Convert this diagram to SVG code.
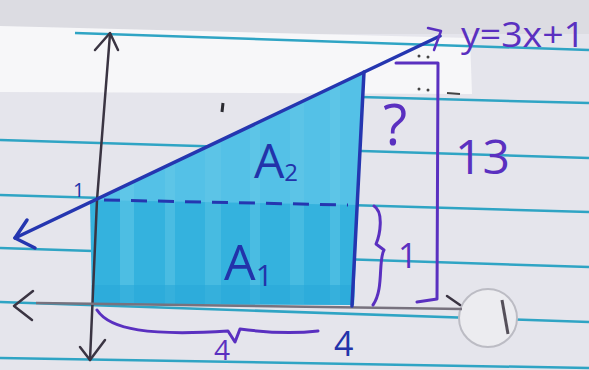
<svg xmlns="http://www.w3.org/2000/svg" width="589" height="370" viewBox="0 0 589 370">
<style>
.rule{stroke:#2fa4c4;stroke-width:2.5;fill:none}
.blue{stroke:#2536b0;stroke-width:3.5;fill:none;stroke-linecap:round;stroke-linejoin:round}
.purple{stroke:#5a30c0;stroke-width:3;fill:none;stroke-linecap:round;stroke-linejoin:round}
.axis{stroke:#3a3442;stroke-width:2.5;fill:none;stroke-linecap:round;stroke-linejoin:round}
.hand{font-family:"Open Sans","DejaVu Sans",sans-serif;font-weight:400}
.tp{fill:#5a30c0}
.tb{fill:#2233aa}
</style>
<defs>
<clipPath id="shadeClip"><polygon points="90,202 363,72 354,305 92,304"/></clipPath>
</defs>
<g id="paper">
<rect x="0" y="0" width="589" height="370" fill="#e5e5ec"/>
<rect x="0" y="0" width="589" height="34" fill="#dcdce2"/>
<polygon points="0,26 470,38 472,94 0,92" fill="#f7f7f9"/>
</g>
<g id="rules">
<line class="rule" x1="75" y1="33" x2="589" y2="50"/>
<line class="rule" x1="360" y1="97" x2="589" y2="103"/>
<line class="rule" x1="0" y1="140" x2="589" y2="158"/>
<line class="rule" x1="0" y1="195" x2="589" y2="212"/>
<line class="rule" x1="0" y1="248" x2="589" y2="267"/>
<line class="rule" x1="0" y1="302" x2="589" y2="322"/>
<line class="rule" x1="0" y1="358" x2="589" y2="368"/>
</g>
<g id="hole">
<circle cx="488" cy="318" r="29" fill="#ececf0" stroke="#bcbcc4" stroke-width="2"/>
<path d="M502,300 L508,334" stroke="#55505a" stroke-width="3" fill="none"/>
</g>
<g id="shade">
<polygon points="90,202 363,72 354,305 92,304" fill="#34b2de"/>
<g clip-path="url(#shadeClip)">
<polygon points="90,202 363,72 360,205 90,200" fill="#5cc4e8" opacity="0.8"/>
<rect x="120" y="60" width="14" height="250" fill="#6ccbe9" opacity="0.45"/>
<rect x="165" y="60" width="10" height="250" fill="#6ccbe9" opacity="0.4"/>
<rect x="205" y="60" width="16" height="250" fill="#6ccbe9" opacity="0.35"/>
<rect x="250" y="60" width="10" height="250" fill="#6ccbe9" opacity="0.4"/>
<rect x="290" y="60" width="14" height="250" fill="#6ccbe9" opacity="0.35"/>
<rect x="330" y="60" width="10" height="250" fill="#6ccbe9" opacity="0.4"/>
<rect x="90" y="285" width="270" height="20" fill="#2aa8d8" opacity="0.6"/>
</g>
</g>
<g id="connectors">
<g id="y-axis">
<path class="axis" d="M110,34 L97,200 L90,360"/>
<path class="axis" d="M95,50 L110,33 L118,50"/>
<path class="axis" d="M80,347 L90,360 L105,340"/>
</g>
<g id="x-axis">
<path d="M36,303 L462,309" stroke="#77727e" stroke-width="2.5" fill="none"/>
<path class="axis" d="M33,291 L14,306 L32,320"/>
<path class="axis" d="M447,296 L460,305"/>
</g>
<g id="line-y3x1">
<path class="blue" d="M15,238 L440,36"/>
<path class="blue" d="M27,220 L15,238 L35,248"/>
<path d="M428,28 L441,31 L434,50" stroke="#5a30c0" stroke-width="2.5" fill="none" stroke-linecap="round" stroke-linejoin="round"/>
</g>
<path id="right-edge" class="blue" d="M364,72 L352,306" stroke-width="3"/>
<path id="dashed" d="M104,200 L348,205" stroke="#2536b0" stroke-width="3" stroke-dasharray="16 11" fill="none"/>
<g id="bracket-13">
<path class="purple" d="M396,63 L438,63 L437,299 L417,302"/>
</g>
<g id="brace-1">
<path class="purple" d="M374,206 C384,212 380,235 376,244 L384,250 C378,260 384,290 373,305"/>
</g>
<g id="brace-4">
<path class="purple" d="M97,310 C110,330 150,336 228,331 L235,342 L240,329 C270,333 300,333 318,331"/>
</g>
<g id="marks">
<path d="M223,103 L222,112" stroke="#2a2a30" stroke-width="3"/>
<circle cx="419" cy="56" r="1.5" fill="#444"/>
<circle cx="428" cy="57" r="1.5" fill="#444"/>
<circle cx="419" cy="89" r="1.5" fill="#444"/>
<circle cx="428" cy="90" r="1.5" fill="#444"/>
<path d="M447,93 L460,94" stroke="#444" stroke-width="2"/>
</g>
</g>
<g id="labels">
<text id="eq" class="hand tp" x="461" y="47" font-size="34" textLength="124" lengthAdjust="spacingAndGlyphs">y=3x+1</text>
<text id="q" class="hand tp" x="383" y="145" font-size="56">?</text>
<text id="l13" class="hand tp" x="455" y="174" font-size="48">13</text>
<text id="l1r" class="hand tp" x="398" y="268" font-size="34">1</text>
<text id="l1l" class="hand tb" x="73" y="197" font-size="20">1</text>
<text id="a2" class="hand tb" x="254" y="178" font-size="48">A<tspan font-size="24" dy="3">2</tspan></text>
<text id="a1" class="hand tb" x="224" y="280" font-size="50">A<tspan font-size="30" dy="6">1</tspan></text>
<text id="l4b" class="hand tp" x="214" y="360" font-size="28">4</text>
<text id="l4r" class="hand tb" x="334" y="356" font-size="34">4</text>
</g>
</svg>
